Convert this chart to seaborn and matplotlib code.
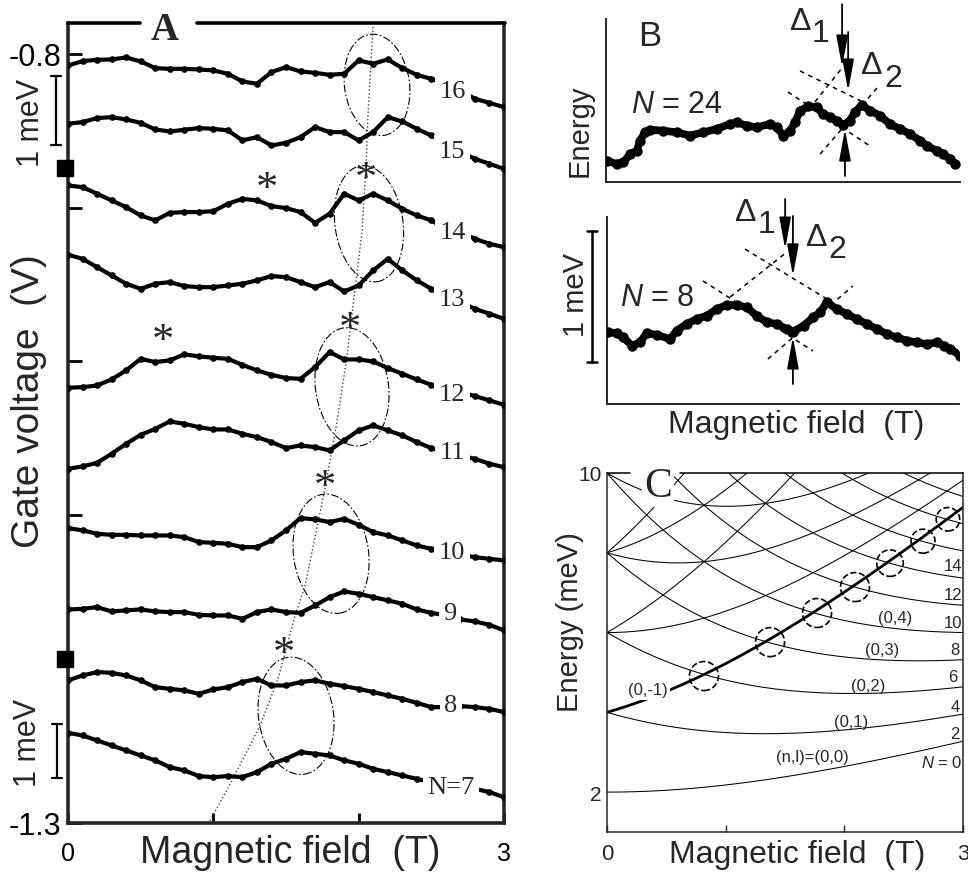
import numpy as np
import matplotlib
matplotlib.use("Agg")
import matplotlib.pyplot as plt
import matplotlib.transforms as mtransforms
from matplotlib.lines import Line2D
from matplotlib.patches import Ellipse
import seaborn as sns

W, H = 968, 878

# ---------------- panel A: peak positions (gate voltage, mV) vs field (T)
field_A = np.linspace(0, 3, 31)
gate_N16 = [-807.6, -804.8, -803.9, -803.7, -802.4, -805.0, -809.3, -809.8, -809.8, -810.2, -810.8,
            -813.0, -818.0, -819.5, -811.9, -808.7, -811.5, -812.4, -813.7, -813.0, -804.3,
            -806.5, -803.7, -809.3, -813.7, -816.3, -819.5, -823.8, -829.3, -831.9, -834.7]
gate_N15 = [-845.5, -844.4, -841.8, -841.2, -842.7, -844.9, -849.2, -850.5, -849.4, -848.3, -848.8,
            -849.8, -856.3, -854.2, -859.6, -857.9, -854.2, -847.7, -850.9, -850.9, -856.3,
            -850.9, -841.2, -844.0, -848.8, -853.1, -858.5, -863.9, -868.3, -871.5, -874.8]
gate_N14 = [-885.6, -886.7, -891.0, -895.3, -899.7, -905.1, -908.3, -903.4, -902.9, -902.9, -902.3,
            -897.5, -894.3, -895.3, -899.0, -900.3, -902.9, -909.9, -904.0, -891.0, -895.3,
            -891.0, -895.3, -900.8, -905.1, -908.3, -913.8, -915.9, -920.3, -923.5, -925.7]
gate_N13 = [-930.6, -933.3, -938.7, -944.1, -949.5, -952.8, -949.5, -948.4, -951.0, -951.7, -951.7,
            -950.6, -949.5, -947.3, -944.5, -945.2, -948.4, -951.7, -948.4, -954.5, -950.6,
            -940.8, -933.3, -940.8, -947.3, -952.8, -958.2, -961.4, -965.8, -969.0, -972.3]
gate_N12 = [-1017.1, -1016.7, -1015.6, -1011.7, -1005.8, -998.3, -1000.4, -999.3, -995.4, -996.7,
            -997.6, -998.3, -1002.2, -1005.8, -1008.7, -1010.8, -1011.3, -1003.7, -993.9, -998.7,
            -998.7, -1000.0, -1004.3, -1008.0, -1011.7, -1015.2, -1017.8, -1019.9, -1022.5,
            -1025.3, -1028.2]
gate_N11 = [-1069.8, -1068.2, -1065.9, -1060.0, -1053.5, -1047.7, -1043.8, -1039.0, -1040.5, -1042.7,
            -1044.2, -1044.2, -1047.0, -1049.2, -1052.4, -1056.3, -1054.6, -1055.7, -1057.8,
            -1051.3, -1044.8, -1041.6, -1044.8, -1048.1, -1052.4, -1056.3, -1058.9, -1061.1,
            -1063.3, -1066.5, -1068.7]
gate_N10 = [-1108.3, -1109.8, -1112.0, -1112.7, -1112.7, -1113.1, -1113.1, -1113.1, -1114.2, -1117.4,
            -1117.9, -1118.5, -1120.7, -1120.7, -1116.3, -1109.8, -1101.8, -1102.7, -1104.4,
            -1102.3, -1106.2, -1110.9, -1113.1, -1116.3, -1119.6, -1121.8, -1123.9, -1125.7,
            -1127.2, -1128.3, -1129.3]
gate_N9 = [-1161.2, -1160.8, -1159.7, -1162.5, -1161.8, -1161.2, -1162.5, -1162.9, -1162.9, -1164.7,
           -1165.1, -1165.1, -1167.3, -1162.9, -1161.2, -1162.9, -1163.4, -1158.6, -1153.2,
           -1149.5, -1151.0, -1153.2, -1155.3, -1157.5, -1161.2, -1163.4, -1165.1, -1167.7,
           -1169.0, -1171.2, -1174.8]
gate_N8 = [-1207.3, -1204.1, -1201.9, -1202.4, -1204.1, -1207.3, -1211.7, -1212.8, -1213.8, -1216.0,
           -1213.2, -1211.7, -1208.4, -1206.3, -1210.6, -1210.6, -1208.4, -1207.3, -1209.5,
           -1211.0, -1212.8, -1214.9, -1217.1, -1219.3, -1221.9, -1224.7, -1224.7, -1224.0,
           -1224.7, -1225.8, -1227.9]
gate_N7 = [-1241.4, -1243.1, -1246.3, -1249.6, -1252.8, -1256.1, -1259.3, -1263.7, -1265.8, -1269.5,
           -1270.2, -1269.5, -1270.2, -1266.9, -1261.5, -1258.3, -1253.9, -1255.0, -1256.1,
           -1259.3, -1261.5, -1264.8, -1266.9, -1269.1, -1271.3, -1273.4, -1275.2, -1276.7,
           -1277.8, -1279.9, -1283.2]
traces_A = [gate_N16, gate_N15, gate_N14, gate_N13, gate_N12, gate_N11, gate_N10, gate_N9, gate_N8, gate_N7]
labels_A = ["16", "15", "14", "13", "12", "11", "10", "9", "8", "N=7"]

star_field = [1.369, 2.050, 0.654, 1.940, 1.768, 1.486]
star_gate = [-881.3, -874.8, -980.1, -972.3, -1075.0, -1183.5]

ellipse_field = [2.126, 2.071, 1.954, 1.810, 1.569]
ellipse_gate = [-820.2, -910.5, -1016.5, -1125.0, -1230.3]

guide_field = [0.977, 1.135, 1.321, 1.445, 1.562, 1.631, 1.768, 1.851, 1.920, 1.975, 2.023, 2.050, 2.064, 2.099]
guide_gate = [-1298.6, -1271.3, -1236.8, -1206.3, -1165.3, -1145.8, -1082.8, -1039.2, -996.3,
              -952.8, -915.7, -874.8, -840.3, -781.8]

square_gate = [-874.1, -1193.3]

# ---------------- panel B: N = 24 and N = 8 traces (arbitrary units 0-100)
b24_field = [0.2, 3.0, 4.9, 6.8, 8.7, 9.6, 11.0, 12.4, 16.2, 20.0, 23.7, 27.5, 31.3, 35.0, 36.9, 39.7,
             42.6, 46.3, 48.2, 50.1, 52.0, 53.4, 54.8, 57.2, 59.5, 61.4, 63.3, 65.2, 67.0, 68.9,
             70.3, 72.2, 74.6, 77.4, 80.2, 83.0, 85.9, 88.7, 90.6, 93.4, 95.3, 97.2, 98.6]
b24_energy = [13.3, 11.2, 12.2, 17.3, 19.4, 25.5, 30.6, 32.2, 31.6, 30.6, 28.6, 30.6, 32.7, 35.7,
              36.7, 34.7, 33.7, 35.7, 33.7, 28.6, 31.6, 36.7, 43.9, 46.5, 45.9, 41.8, 39.8, 37.8,
              35.1, 37.8, 42.9, 47.3, 43.9, 40.8, 35.7, 32.7, 29.6, 25.5, 22.4, 19.4, 17.3, 14.3, 11.2]
b24_guides = [((51.4, 74.6), (55.3, 22.2)), ((60.5, 76.8), (17.3, 58.4)),
              ((54.8, 72.6), (68.2, 49.2)), ((59.0, 66.9), (49.2, 70.6))]
b24_arrows = [(66.7, 109.0, 70.6), (68.4, 92.0, 55.9), (67.5, 3.9, 32.6)]

b8_field = [0.5, 2.8, 4.7, 7.1, 9.5, 11.3, 14.2, 18.0, 19.8, 22.7, 25.5, 28.4, 31.2, 34.0, 36.9, 39.7,
            42.5, 45.4, 48.2, 51.0, 52.9, 55.8, 58.6, 60.5, 62.4, 65.2, 68.1, 70.9, 73.7, 76.6,
            79.4, 82.2, 85.1, 87.9, 90.7, 93.6, 95.5, 97.4, 100.2]
b8_energy = [38.4, 38.0, 35.7, 31.3, 33.0, 38.0, 37.0, 34.8, 39.3, 42.9, 45.5, 47.3, 50.9, 53.0, 53.0,
             51.8, 47.3, 43.8, 42.9, 40.2, 38.8, 42.0, 46.4, 49.1, 54.5, 50.9, 48.2, 45.5, 42.9,
             40.2, 37.5, 35.7, 33.9, 33.0, 32.1, 33.0, 31.3, 29.5, 25.9]
b8_guides = [((27.3, 58.5), (65.9, 28.4)), ((45.7, 69.8), (24.1, 63.2)),
             ((35.0, 51.1), (57.3, 81.4)), ((39.2, 66.1), (83.0, 52.0))]
b8_arrows = [(50.6, 109.8, 83.0), (52.8, 100.7, 68.6), (52.8, 10.7, 35.9)]

# ---------------- panel C: Fock-Darwin spectrum
hw0 = 2.0          # confinement energy read at B = 0 (meV)
hwc_per_T = 1.728  # GaAs cyclotron energy per tesla (meV/T)
fd_levels = [(0, l) for l in range(-4, 11)] + [(1, l) for l in range(-2, 4)] + [(2, 0)]
field_C = np.linspace(0, 3, 151)
circle_field = [0.817, 1.374, 1.770, 2.090, 2.385, 2.663, 2.873]
circle_energy = [4.91, 5.76, 6.49, 7.14, 7.74, 8.29, 8.84]
circle_diam_px = [29, 29, 29, 29, 26.5, 24, 23.5]

# ---------------- style
sns.set_style("ticks")
plt.rcParams["font.family"] = ["Liberation Sans", "DejaVu Sans"]
plt.rcParams["mathtext.fontset"] = "custom"
plt.rcParams["mathtext.rm"] = "Liberation Sans"
plt.rcParams["mathtext.it"] = "Liberation Sans:italic"
SERIF = ["Liberation Serif", "DejaVu Serif"]

fig = plt.figure(figsize=(W / 100, H / 100), dpi=100)


def rect(l, t, r, b):
    return [l / W, 1 - b / H, (r - l) / W, (b - t) / H]


def ftext(px, py, s, **kw):
    kw.setdefault("ha", "center")
    kw.setdefault("va", "center")
    return fig.text(px / W, 1 - py / H, s, **kw)


def fline(xs, ys, **kw):
    fig.add_artist(Line2D([x / W for x in xs], [1 - y / H for y in ys], color="black", **kw))


def scale_bar(px, py0, py1, half=5, lw=1.6):
    fline([px, px], [py0, py1], lw=lw)
    fline([px - half, px + half], [py0, py0], lw=lw)
    fline([px - half, px + half], [py1, py1], lw=lw)


# ================= panel A
axA = fig.add_axes(rect(68, 24, 504, 824))
for vals in traces_A:
    sns.lineplot(x=field_A, y=vals, ax=axA, color="black", linewidth=3.0, marker="o",
                 markersize=4.8, markeredgewidth=0, sort=False, estimator=None, zorder=3)
sns.lineplot(x=guide_field, y=guide_gate, ax=axA, color="0.25", linewidth=1.0,
             linestyle=":", sort=False, estimator=None)

for cx, cy, (w, h) in zip(ellipse_field, ellipse_gate, [(65, 102), (68, 117), (73, 119), (75, 120), (75, 118)]):
    tr = fig.dpi_scale_trans + mtransforms.ScaledTranslation(cx, cy, axA.transData)
    axA.add_patch(Ellipse((0, 0), w / 100, h / 100, angle=8, transform=tr, fill=False,
                          ec="black", lw=0.8, ls=(0, (7, 2, 1.5, 2))))

star_off = mtransforms.ScaledTranslation(0, -0.47 * 32 / 72, fig.dpi_scale_trans)
for sx, sy in zip(star_field, star_gate):
    axA.text(sx, sy, "*", transform=axA.transData + star_off, ha="center", va="baseline",
             fontsize=32, family=SERIF)

axA.plot([-0.02] * len(square_gate), square_gate, "s", color="black", ms=11.5, clip_on=False, zorder=5)

axA.set_xlim(0, 3)
axA.set_ylim(-1300, -780)
axA.set_xticks([0, 1, 2, 3])
axA.set_xticklabels(["0", "", "", "3"])
axA.set_yticks([-800, -900, -1000, -1100, -1300])
axA.set_yticklabels(["-0.8", "", "", "", "-1.3"])
axA.tick_params(direction="in", width=2, colors="black")
axA.tick_params(axis="y", length=10, labelsize=22, pad=5)
axA.tick_params(axis="x", length=7, labelsize=18, pad=13)
axA.set_xlabel("")
axA.set_ylabel("")
for side in ["left", "bottom", "right"]:
    axA.spines[side].set_linewidth(2.6)
axA.spines["top"].set_visible(False)
fline([68, 140], [24, 24], lw=2.6)
fline([197, 505], [24, 24], lw=2.6)

ftext(165, 31, "A", fontsize=28, family=SERIF, weight="bold")
ftext(290, 853, "Magnetic field  (T)", fontsize=27)
ftext(29, 401, "Gate voltage  (V)", fontsize=28, rotation=90)

for lab, (px, py) in zip(labels_A, [(453, 92), (452, 152), (453, 233), (452, 300), (452, 395),
                                     (452, 453), (452, 553), (450, 614), (451, 706), (451, 788)]):
    ftext(px, py, lab, fontsize=19, family=SERIF,
          bbox=dict(boxstyle="square,pad=0.18", fc="white", ec="none"))

scale_bar(56, 77, 146)
ftext(31, 123, "1 meV", fontsize=22, rotation=90)
scale_bar(57, 725, 779)
ftext(28, 743, "1 meV", fontsize=22, rotation=90)

# ================= panel B
axB1 = fig.add_axes(rect(606, 20, 960, 183.3))
axB2 = fig.add_axes(rect(606.7, 218.3, 959.4, 405))
for ax, fx, ey, guides, arrows in [(axB1, b24_field, b24_energy, b24_guides, b24_arrows),
                                    (axB2, b8_field, b8_energy, b8_guides, b8_arrows)]:
    sns.lineplot(x=fx, y=ey, ax=ax, color="black", linewidth=5.5, marker="o", markersize=7.5,
                 markeredgewidth=0, sort=False, estimator=None, zorder=3)
    for gx, gy in guides:
        ax.plot(gx, gy, color="black", lw=1.1, ls=(0, (3, 3)), zorder=2)
    for ax_x, y0, y1 in arrows:
        ax.annotate("", xy=(ax_x, y1), xytext=(ax_x, y0), annotation_clip=False,
                    arrowprops=dict(arrowstyle="-|>,head_length=1.2,head_width=0.22",
                                    mutation_scale=16, lw=1.3, color="black",
                                    shrinkA=0, shrinkB=0))
    ax.set_xlim(0, 100)
    ax.set_ylim(0, 100)
    ax.set_xticks([])
    ax.set_yticks([])
    ax.set_xlabel("")
    ax.set_ylabel("")
    for side in ["top", "right"]:
        ax.spines[side].set_visible(False)
    for side in ["left", "bottom"]:
        ax.spines[side].set_linewidth(1.4)

ftext(650, 37, "B", fontsize=25)
ftext(677, 105, "$N$ = 24", fontsize=22)
ftext(657, 298, "$N$ = 8", fontsize=22)
ftext(801, 22, "Δ", fontsize=23)
ftext(820, 34, "1", fontsize=23)
ftext(872, 66, "Δ", fontsize=23)
ftext(893, 79, "2", fontsize=23)
ftext(746, 213, "Δ", fontsize=23)
ftext(766, 225, "1", fontsize=23)
ftext(817, 238, "Δ", fontsize=23)
ftext(837, 250, "2", fontsize=23)
ftext(580, 131, "Energy", fontsize=21, rotation=90)
ftext(796, 425, "Magnetic field  (T)", fontsize=23)
scale_bar(592, 232, 363, half=5, lw=1.8)
ftext(576, 295, "1 meV", fontsize=21, rotation=90)

# ================= panel C
axC = fig.add_axes(rect(607, 474, 963, 833))
hwc = hwc_per_T * field_C
omega = np.sqrt(hw0 ** 2 + (hwc / 2) ** 2)
for n, l in fd_levels:
    energy = (2 * n + abs(l) + 1) * omega - l * hwc / 2
    sns.lineplot(x=field_C, y=energy, ax=axC, color="black",
                 linewidth=2.0 if (n, l) == (0, -1) else 0.75, sort=False, estimator=None)
axC.scatter(circle_field, circle_energy, s=[(d / 1.389) ** 2 for d in circle_diam_px],
            facecolors="none", edgecolors="black", linewidths=1.2, linestyles="--", zorder=4)
axC.set_xlim(0, 3)
axC.set_ylim(1, 10)
axC.set_xticks([0, 1, 2, 3])
axC.set_xticklabels(["0", "", "", "3"])
axC.set_yticks([2, 10])
axC.set_yticklabels(["2", "10"])
axC.tick_params(axis="x", direction="in", length=5, width=1, labelsize=16, pad=8)
axC.tick_params(axis="y", length=0, labelsize=15, pad=4)
axC.set_xlabel("")
axC.set_ylabel("")
for side in ["left", "bottom", "right"]:
    axC.spines[side].set_linewidth(1.1)
axC.spines["top"].set_visible(False)
fline([607, 630], [474, 474], lw=1.1)
fline([680, 963], [474, 474], lw=1.1)

ftext(658, 487, "C", fontsize=30, family=SERIF,
      bbox=dict(boxstyle="square,pad=0.05", fc="white", ec="none"))
for s, (px, py) in zip(["14", "12", "10", "8", "6", "4", "2"],
                       [(953, 567), (953, 595), (953, 623), (955, 651), (953, 678), (955, 708), (955, 735)]):
    ftext(px, py, s, fontsize=12)
ftext(942, 763, "$N$ = 0", fontsize=12)
ftext(895, 619, "(0,4)", fontsize=12)
ftext(882, 651, "(0,3)", fontsize=12)
ftext(868, 687, "(0,2)", fontsize=12)
ftext(851, 723, "(0,1)", fontsize=12)
ftext(812, 758, "(n,l)=(0,0)", fontsize=12)
ftext(648, 691, "(0,-1)", fontsize=12, bbox=dict(boxstyle="square,pad=0.15", fc="white", ec="none"))
ftext(570, 622, "Energy (meV)", fontsize=21, rotation=90)
ftext(797, 855, "Magnetic field  (T)", fontsize=23)

fig.savefig("out.png", dpi=100)
